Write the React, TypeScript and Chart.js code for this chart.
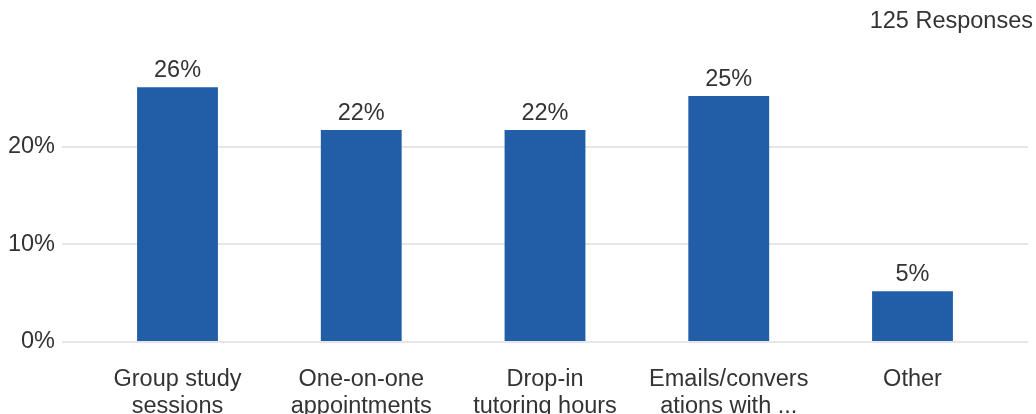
import React, { useEffect, useRef } from "react";
import { Chart, registerables } from "chart.js";

Chart.register(...registerables);

const categories: string[][] = [
  ["Group study", "sessions"],
  ["One-on-one", "appointments"],
  ["Drop-in", "tutoring hours"],
  ["Emails/convers", "ations with ..."],
  ["Other"],
];
const percentages: number[] = [26.1, 21.7, 21.7, 25.2, 5.2];
const responseLabel = "125 Responses";

const FONT_FAMILY = '"Liberation Sans", Arial, Helvetica, sans-serif';
const FONT_SIZE = 23.5;
const TEXT_COLOR = "#333333";
const BAR_COLOR = "#225ea8";
const GRID_COLOR = "#e6e6e6";

const valueLabels = {
  id: "valueLabels",
  afterDatasetsDraw(chart: any) {
    const ctx = chart.ctx;
    const meta = chart.getDatasetMeta(0);
    ctx.save();
    ctx.font = `${FONT_SIZE}px ${FONT_FAMILY}`;
    ctx.fillStyle = TEXT_COLOR;
    ctx.textAlign = "center";
    ctx.textBaseline = "alphabetic";
    meta.data.forEach((el: any, i: number) => {
      ctx.fillText(Math.round(percentages[i]) + "%", el.x, el.y - 10);
    });
    ctx.restore();
  },
};

export default function App() {
  const ref = useRef<HTMLCanvasElement | null>(null);

  useEffect(() => {
    if (!ref.current) return;
    Chart.defaults.font.family = FONT_FAMILY;
    Chart.defaults.color = TEXT_COLOR;
    const chart = new Chart(ref.current, {
      type: "bar",
      data: {
        datasets: [
          {
            data: percentages.map((v, i) => ({ x: i, y: v })),
            backgroundColor: BAR_COLOR,
            borderWidth: 0,
            barPercentage: 0.44,
            categoryPercentage: 1,
          },
        ],
      },
      options: {
        responsive: false,
        animation: false,
        layout: { padding: { left: 0, right: 3, top: 0, bottom: 11 } },
        plugins: {
          legend: { display: false },
          tooltip: { enabled: false },
          title: {
            display: true,
            text: responseLabel,
            align: "end",
            color: TEXT_COLOR,
            font: { size: FONT_SIZE, weight: "normal", lineHeight: 1.2 },
            padding: { top: 7, bottom: 33.4 },
          },
        },
        scales: {
          x: {
            type: "linear",
            offset: false,
            min: -0.6286,
            max: 4.6286,
            grid: { display: false, drawTicks: false },
            border: { display: false },
            ticks: {
              stepSize: 1,
              includeBounds: false,
              autoSkip: false,
              maxRotation: 0,
              padding: 24,
              color: TEXT_COLOR,
              font: { size: FONT_SIZE, lineHeight: 1.15 },
              callback: (v: any) =>
                Number.isInteger(v) && categories[v] ? categories[v] : "",
            },
          },
          y: {
            min: 0,
            max: 28,
            grid: { color: GRID_COLOR, lineWidth: 2, drawTicks: false },
            border: { display: false },
            ticks: {
              stepSize: 10,
              includeBounds: false,
              padding: 7,
              color: TEXT_COLOR,
              font: { size: FONT_SIZE },
              callback: (v: any) => v + "%",
            },
            afterFit: (scale: any) => {
              scale.width = 62;
            },
          },
          y2: {
            position: "right",
            grid: { display: false },
            border: { display: false },
            ticks: { display: false },
            afterFit: (scale: any) => {
              scale.width = 5;
            },
          },
        },
      },
      plugins: [valueLabels],
    } as any);
    return () => chart.destroy();
  }, []);

  return (
    <div
      style={{
        position: "fixed",
        left: 0,
        top: 0,
        width: 1036,
        height: 414,
        overflow: "hidden",
        background: "#ffffff",
      }}
    >
      <canvas ref={ref} width={1036} height={455} style={{ display: "block" }} />
    </div>
  );
}
